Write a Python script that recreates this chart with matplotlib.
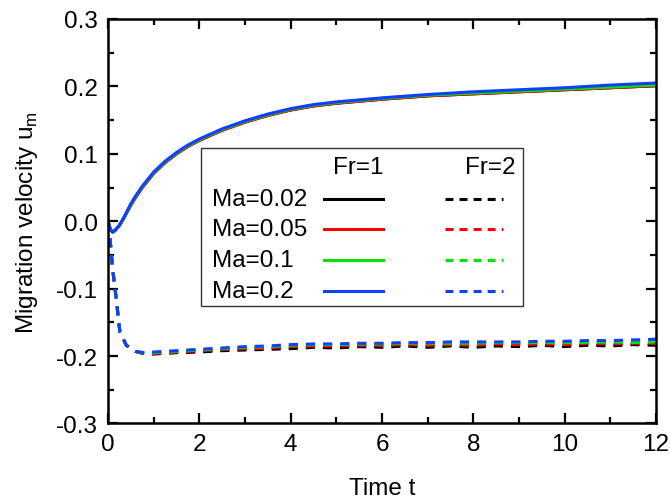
import matplotlib
matplotlib.use("Agg")
import matplotlib.pyplot as plt
from matplotlib.patches import Rectangle
from matplotlib.ticker import MultipleLocator

plt.rcParams['font.family'] = ['Liberation Sans', 'DejaVu Sans']
plt.rcParams['mathtext.fontset'] = 'custom'
plt.rcParams['mathtext.rm'] = 'Liberation Sans'

ma_labels = ["Ma=0.02", "Ma=0.05", "Ma=0.1", "Ma=0.2"]
colors = ["black", "red", "#00e600", "#1040ff"]
yticks = [-0.3, -0.2, -0.1, 0.0, 0.1, 0.2, 0.3]
ytick_labels = ["-0.3", "-0.2", "-0.1", "0.0", "0.1", "0.2", "0.3"]

# Fr=1 (solid)
t1 = [0, 0.05, 0.1, 0.15, 0.25, 0.35, 0.5, 0.6, 0.75, 1.0, 1.25, 1.5, 1.75, 2, 2.5, 3, 3.5, 4, 4.5, 5, 6, 7, 8, 9, 10, 11, 12]
u1_002 = [0.0, -0.012, -0.016, -0.014, -0.006, 0.005, 0.024, 0.035, 0.05, 0.071, 0.087, 0.1, 0.111, 0.12, 0.135, 0.147, 0.157, 0.165, 0.171, 0.175, 0.181, 0.186, 0.189, 0.192, 0.195, 0.198, 0.201]
u1_005 = [0.0, -0.012, -0.016, -0.014, -0.006, 0.005, 0.024, 0.035, 0.05, 0.071, 0.087, 0.1, 0.111, 0.12, 0.135, 0.147, 0.157, 0.165, 0.171, 0.175, 0.181, 0.186, 0.189, 0.192, 0.195, 0.198, 0.201]
u1_01 = [0.0, -0.012, -0.016, -0.014, -0.006, 0.005, 0.025, 0.036, 0.051, 0.072, 0.088, 0.101, 0.112, 0.121, 0.136, 0.148, 0.158, 0.166, 0.172, 0.176, 0.182, 0.187, 0.190, 0.193, 0.196, 0.199, 0.202]
u1_02 = [0.0, -0.012, -0.016, -0.014, -0.006, 0.006, 0.026, 0.037, 0.052, 0.073, 0.089, 0.102, 0.113, 0.122, 0.137, 0.149, 0.159, 0.167, 0.173, 0.177, 0.183, 0.188, 0.192, 0.195, 0.198, 0.202, 0.205]

# Fr=2 (dashed)
t2 = [0, 0.05, 0.1, 0.18, 0.26, 0.4, 0.6, 0.8, 1.0, 1.5, 2, 2.5, 3, 3.5, 4, 4.5, 5, 5.5, 6, 6.5, 7, 7.5, 8, 8.5, 9, 9.5, 10, 10.5, 11, 11.5, 12]
u2_002 = [0.0, -0.03, -0.07, -0.115, -0.164, -0.184, -0.193, -0.197, -0.197, -0.195, -0.194, -0.192, -0.191, -0.190, -0.189, -0.187, -0.188, -0.186, -0.187, -0.185, -0.187, -0.185, -0.187, -0.185, -0.186, -0.184, -0.186, -0.184, -0.185, -0.183, -0.184]
u2_005 = [0.0, -0.03, -0.07, -0.115, -0.164, -0.184, -0.193, -0.196, -0.196, -0.194, -0.192, -0.190, -0.189, -0.188, -0.186, -0.185, -0.185, -0.184, -0.184, -0.183, -0.184, -0.183, -0.184, -0.182, -0.183, -0.182, -0.183, -0.181, -0.182, -0.181, -0.181]
u2_01 = [0.0, -0.03, -0.07, -0.115, -0.164, -0.184, -0.193, -0.196, -0.195, -0.193, -0.191, -0.189, -0.187, -0.186, -0.184, -0.183, -0.183, -0.182, -0.182, -0.181, -0.181, -0.181, -0.181, -0.180, -0.180, -0.180, -0.180, -0.180, -0.179, -0.180, -0.179]
u2_02 = [0.0, -0.03, -0.07, -0.115, -0.164, -0.184, -0.193, -0.195, -0.194, -0.192, -0.190, -0.188, -0.186, -0.185, -0.183, -0.182, -0.182, -0.181, -0.181, -0.180, -0.180, -0.179, -0.179, -0.179, -0.179, -0.178, -0.178, -0.177, -0.177, -0.176, -0.175]

fr1 = [u1_002, u1_005, u1_01, u1_02]
fr2 = [u2_002, u2_005, u2_01, u2_02]

fig = plt.figure(figsize=(6.7, 5.02), dpi=100)
ax = fig.add_axes([0.1612, 0.1544, 0.8179, 0.8058])

for u, c in zip(fr2, colors):
    ax.plot(t2, u, color=c, lw=2.2, dashes=(3.0, 2.6))
for u, c in zip(fr1, colors):
    ax.plot(t1, u, color=c, lw=2.2)

ax.set_xlim(0, 12)
ax.set_ylim(-0.3, 0.3)
ax.xaxis.set_major_locator(MultipleLocator(2))
ax.xaxis.set_minor_locator(MultipleLocator(1))
ax.set_yticks(yticks)
ax.set_yticklabels(ytick_labels)
ax.yaxis.set_minor_locator(MultipleLocator(0.05))
ax.set_ylim(-0.3, 0.3)
ax.tick_params(which='both', direction='in', top=True, right=True, width=1.6, labelsize=17.5, pad=7)
ax.tick_params(which='major', length=7)
ax.tick_params(which='minor', length=4)
for s in ax.spines.values():
    s.set_linewidth(1.8)

ax.set_xlabel("Time t", fontsize=17.5, labelpad=16)
ax.set_ylabel("Migration velocity u$_\\mathregular{m}$", fontsize=17.5, labelpad=12)

# custom legend table
ax.add_patch(Rectangle((0.170, 0.290), 0.587, 0.391, transform=ax.transAxes,
                       facecolor='white', edgecolor='#333333', lw=1.0, zorder=5))
ax.text(0.456, 0.634, "Fr=1", transform=ax.transAxes, ha='center', va='center', fontsize=17.5, zorder=6)
ax.text(0.697, 0.634, "Fr=2", transform=ax.transAxes, ha='center', va='center', fontsize=17.5, zorder=6)
row_y = [0.555, 0.481, 0.405, 0.328]
for lab, c, y in zip(ma_labels, colors, row_y):
    ax.text(0.190, y, lab, transform=ax.transAxes, ha='left', va='center', fontsize=17.5, zorder=6)
    ax.plot([0.394, 0.502], [y, y], transform=ax.transAxes, color=c, lw=2.2, zorder=6)
    ax.plot([0.615, 0.721], [y, y], transform=ax.transAxes, color=c, lw=2.2, dashes=(2.6, 2.0), zorder=6)

fig.savefig("out.png", dpi=100)
